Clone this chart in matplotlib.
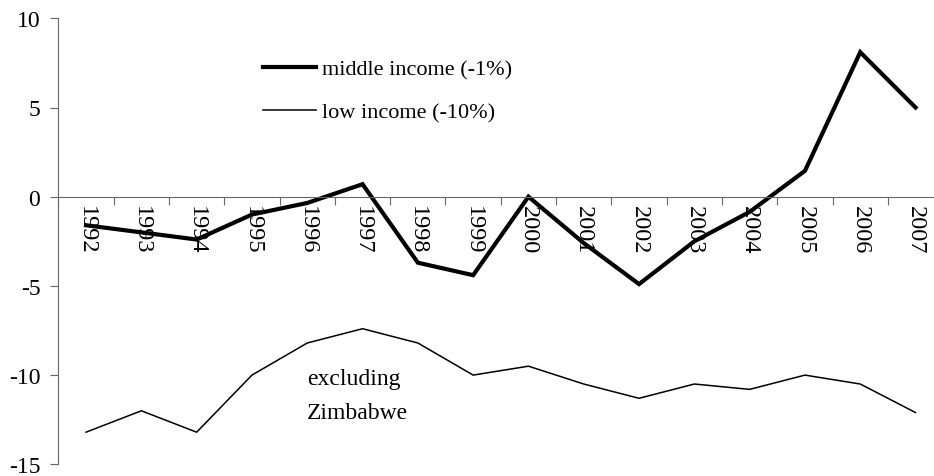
import numpy as np
import matplotlib as mpl
mpl.use('Agg')
import matplotlib.pyplot as plt

plt.rcParams['font.family'] = ['Liberation Serif', 'DejaVu Serif']

# Data
years = [str(y) for y in range(1992, 2008)]
middle_income = [-1.6, -2.0, -2.4, -1.0, -0.35, 0.7, -3.7, -4.4, 0.0, -2.6,
                 -4.9, -2.5, -0.85, 1.45, 8.1, 5.0]
low_income = [-13.2, -12.0, -13.2, -10.0, -8.2, -7.4, -8.2, -10.0, -9.5, -10.5,
              -11.3, -10.5, -10.8, -10.0, -10.5, -12.1]
labels = ['middle income (-1%)', 'low income (-10%)']
yticks = [-15, -10, -5, 0, 5, 10]

W, H = 934, 477
fig = plt.figure(figsize=(W / 100, H / 100), dpi=100)
# axes run past the right edge, as in the reference
ax = fig.add_axes([58.4 / W, (H - 465.3) / H, 884.8 / W, 446.0 / H])

x = np.arange(len(years))
ax.plot(x, middle_income, color='black', lw=3.0, solid_joinstyle='miter', label=labels[0])
ax.plot(x, low_income, color='black', lw=1.1, label=labels[1])

ax.set_xlim(-0.5, len(years) - 0.5)
ax.set_ylim(-15, 10)

axis_col = '#666666'
for s in ['top', 'right']:
    ax.spines[s].set_visible(False)
ax.spines['bottom'].set_position(('data', 0))
ax.spines['bottom'].set_color(axis_col)
ax.spines['left'].set_color(axis_col)

ax.set_yticks(yticks)
ax.set_yticklabels([str(t) for t in yticks])
ax.tick_params(axis='y', direction='out', length=6, color=axis_col, labelsize=17, pad=7)

# tick marks on category borders, labels on category centres
ax.set_xticks(np.arange(-0.5, len(years), 1.0))
ax.set_xticklabels([])
ax.set_xticks(x, minor=True)
ax.set_xticklabels(years, minor=True, rotation=270, fontsize=17.5, va='top', ha='center')
ax.tick_params(axis='x', which='major', direction='out', length=6, color=axis_col)
ax.tick_params(axis='x', which='minor', length=0, pad=6)

ax.legend(loc='upper left', bbox_to_anchor=(263 / W, 1 - 60 / H), bbox_transform=fig.transFigure,
          frameon=False, fontsize=16, handlelength=2.4, handletextpad=0.25,
          labelspacing=1.0, borderpad=0, borderaxespad=0)

ax.text(4, -9.6, 'excluding\nZimbabwe', fontsize=17, ha='left', va='top', linespacing=1.8)

fig.savefig('out.png', dpi=100)
